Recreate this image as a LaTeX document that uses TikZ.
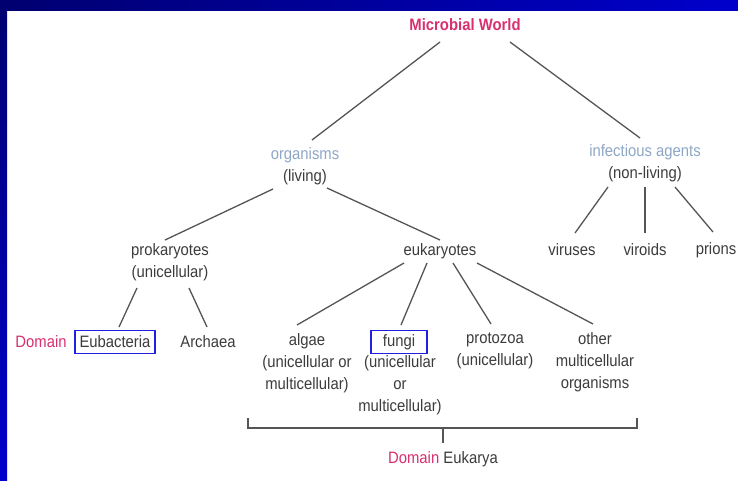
\documentclass[tikz,border=0pt]{standalone}
\usepackage{fontspec}
\setmainfont{Liberation Sans}[FakeStretch=0.9]

\definecolor{titlepink}{HTML}{D8306F}
\definecolor{orgblue}{HTML}{8FA7C6}
\definecolor{textgray}{HTML}{3C3C3C}
\definecolor{linegray}{HTML}{555555}
\definecolor{boxblue}{HTML}{2020E0}
\definecolor{bandnavy}{HTML}{000070}
\definecolor{bandblue}{HTML}{0000CC}

\begin{document}
\begin{tikzpicture}[x=1pt,y=-1pt,
    lbl/.style={font=\fontsize{16.5}{22}\selectfont,text=textgray,inner sep=0pt,align=center},
    link/.style={draw=linegray,line width=1.3pt},
    tagbox/.style={lbl,draw=boxblue,line width=1.2pt,minimum height=23pt}]
        % Frame
        \useasboundingbox (0,0) rectangle (738,480);
        \fill[white] (0,0) rectangle (738,480);
        \shade[top color=bandnavy,bottom color=bandblue] (0,0) rectangle (7,480);
        \shade[left color=bandnavy,right color=bandblue] (0,0) rectangle (738,10);

        % Top of the tree
        \node[lbl,text=titlepink,font=\bfseries\fontsize{16.5}{22}\selectfont] (mw) at (465,25) {Microbial World};
        \node[lbl] (org) at (305,166) {\textcolor{orgblue}{organisms}\\(living)};
        \node[lbl] (inf) at (645,163) {\textcolor{orgblue}{infectious agents}\\(non-living)};

        % Second level
        \node[lbl] (prok) at (170,262) {prokaryotes\\(unicellular)};
        \node[lbl] (euk) at (440,251) {eukaryotes};
        \node[lbl] (vir) at (572,250) {viruses};
        \node[lbl] (vrd) at (645,250) {viroids};
        \node[lbl] (pri) at (716,250) {prions};

        % Prokaryotes
        \node[lbl,text=titlepink] (dom1) at (41,342) {Domain};
        \node[tagbox,minimum width=80pt] (eub) at (115,342) {Eubacteria};
        \node[lbl] (arc) at (208,342) {Archaea};

        % Eukaryotes
        \node[lbl] (alg) at (307,363) {algae\\(unicellular or\\multicellular)};
        \node[tagbox,minimum width=56pt] (fun) at (399,342) {fungi};
        \node[lbl] (fundesc) at (400,385) {(unicellular\\or\\multicellular)};
        \node[lbl] (pro) at (495,351) {protozoa\\(unicellular)};
        \node[lbl] (oth) at (595,362) {other\\multicellular\\organisms};
        \node[lbl] (dom2) at (443,459) {\textcolor{titlepink}{Domain} Eukarya};

        % Connectors
        \draw[link] ([shift={(-25,17)}]mw.center) -- ([shift={(7,-26)}]org.center);
        \draw[link] ([shift={(45,17)}]mw.center) -- ([shift={(-5,-25)}]inf.center);
        \draw[link] ([shift={(-32,23)}]org.center) -- ([shift={(-5,-22)}]prok.center);
        \draw[link] ([shift={(22,22)}]org.center) -- ([shift={(0,-11)}]euk.center);
        \draw[link] ([shift={(-37,24)}]inf.center) -- ([shift={(3,-17)}]vir.center);
        \draw[link] ([shift={(0,24)}]inf.center) -- ([shift={(0,-17)}]vrd.center);
        \draw[link] ([shift={(30,24)}]inf.center) -- ([shift={(-3,-18)}]pri.center);
        \draw[link] ([shift={(-33,26)}]prok.center) -- ([shift={(4,-15)}]eub.center);
        \draw[link] ([shift={(19,26)}]prok.center) -- ([shift={(-1,-15)}]arc.center);
        \draw[link] ([shift={(-36,12)}]euk.center) -- ([shift={(-10,-38)}]alg.center);
        \draw[link] ([shift={(-13,12)}]euk.center) -- ([shift={(2,-17)}]fun.center);
        \draw[link] ([shift={(13,12)}]euk.center) -- ([shift={(-4,-27)}]pro.center);
        \draw[link] ([shift={(37,12)}]euk.center) -- ([shift={(-2,-38)}]oth.center);

        % Bracket for Eukarya
        \draw[link] (248,418) |- (637,428) -- (637,418);
        \draw[link] (443,428) -- ([shift={(0,-16)}]dom2.center);
      \end{tikzpicture}
\end{document}
